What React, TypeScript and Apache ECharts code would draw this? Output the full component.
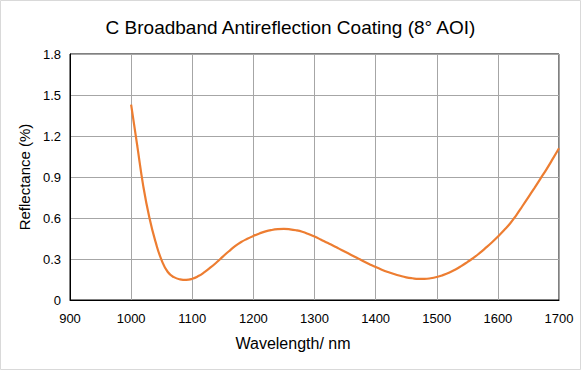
import React, { useEffect, useRef } from "react";
import * as echarts from "echarts";

const titleText = "C Broadband Antireflection Coating (8° AOI)";
const xAxisName = "Wavelength/ nm";
const yAxisName = "Reflectance (%)";

const wavelengths = [
  1000, 1010, 1020, 1030, 1040, 1050, 1060, 1070, 1080, 1090,
  1100, 1110, 1120, 1130, 1140, 1150, 1160, 1170, 1180, 1190,
  1200, 1210, 1220, 1230, 1240, 1250, 1260, 1270, 1280, 1290,
  1300, 1310, 1320, 1330, 1340, 1350, 1360, 1370, 1380, 1390,
  1400, 1410, 1420, 1430, 1440, 1450, 1460, 1470, 1480, 1490,
  1500, 1510, 1520, 1530, 1540, 1550, 1560, 1570, 1580, 1590,
  1600, 1610, 1620, 1630, 1640, 1650, 1660, 1670, 1680, 1690, 1700,
];
const reflectance = [
  1.43, 1.13, 0.83, 0.6, 0.425, 0.29, 0.205, 0.167, 0.151, 0.147,
  0.155, 0.175, 0.204, 0.238, 0.276, 0.317, 0.357, 0.394, 0.424, 0.448,
  0.469, 0.487, 0.502, 0.512, 0.518, 0.52, 0.517, 0.51, 0.499, 0.483,
  0.464, 0.443, 0.421, 0.399, 0.376, 0.353, 0.33, 0.307, 0.284, 0.262,
  0.241, 0.222, 0.205, 0.19, 0.177, 0.166, 0.159, 0.155, 0.155, 0.159,
  0.168, 0.182, 0.2, 0.222, 0.248, 0.277, 0.308, 0.343, 0.381, 0.421,
  0.464, 0.51, 0.56, 0.62, 0.686, 0.753, 0.821, 0.89, 0.96, 1.034, 1.11,
];

const xMin = 900;
const xMax = 1700;
const xStep = 100;
const yMin = 0;
const yMax = 1.8;
const yStep = 0.3;

export default function App() {
  const ref = useRef<HTMLDivElement>(null);
  useEffect(() => {
    if (!ref.current) return;
    const chart = echarts.init(ref.current, null, { renderer: "svg" });
    const font = "'Liberation Sans', Arial, sans-serif";
    chart.setOption({
      animation: false,
      backgroundColor: "#ffffff",
      textStyle: { fontFamily: font },
      title: {
        text: titleText,
        left: "center",
        top: 13,
        textStyle: { fontFamily: font, fontSize: 19, fontWeight: "normal", color: "#000" },
      },
      graphic: [
        {
          type: "rect",
          shape: { x: 0.5, y: 0.5, width: 580, height: 369 },
          style: { fill: "none", stroke: "#D9D9D9", lineWidth: 1 },
          silent: true,
        },
        {
          type: "text",
          x: 293,
          y: 343,
          style: {
            text: xAxisName,
            fontFamily: font,
            fontSize: 16,
            fill: "#000",
            align: "center",
            verticalAlign: "middle",
          },
          silent: true,
        },
      ],
      grid: {
        left: 70,
        right: 22,
        top: 54,
        bottom: 70,
        show: true,
        borderColor: "#000",
        borderWidth: 1,
        backgroundColor: "transparent",
      },
      xAxis: {
        type: "value",
        min: xMin,
        max: xMax,
        interval: xStep,
        axisLine: { show: true, lineStyle: { color: "#000", width: 1 } },
        axisTick: { show: false },
        axisLabel: {
          fontFamily: font,
          fontSize: 13,
          color: "#000",
          margin: 12,
          formatter: (v: number) => String(v),
        },
        splitLine: { show: true, lineStyle: { color: "#A6A6A6", width: 1 } },
      },
      yAxis: {
        type: "value",
        min: yMin,
        max: yMax,
        interval: yStep,
        name: yAxisName,
        nameLocation: "middle",
        nameGap: 37,
        nameTextStyle: { fontFamily: font, fontSize: 15, color: "#000" },
        axisLine: { show: true, lineStyle: { color: "#000", width: 1 } },
        axisTick: { show: false },
        axisLabel: {
          fontFamily: font,
          fontSize: 13,
          color: "#000",
          margin: 9,
          formatter: (v: number) => (v === 0 ? "0" : v.toFixed(1)),
        },
        splitLine: { show: true, lineStyle: { color: "#A6A6A6", width: 1 } },
      },
      series: [
        {
          type: "line",
          data: wavelengths.map((w, i) => [w, reflectance[i]]),
          smooth: 0.5,
          showSymbol: false,
          lineStyle: { color: "#ED7D31", width: 2.2 },
        },
      ],
    });
    return () => chart.dispose();
  }, []);
  return (
    <div
      ref={ref}
      style={{ position: "fixed", left: 0, top: 0, width: 581, height: 370 }}
    />
  );
}
